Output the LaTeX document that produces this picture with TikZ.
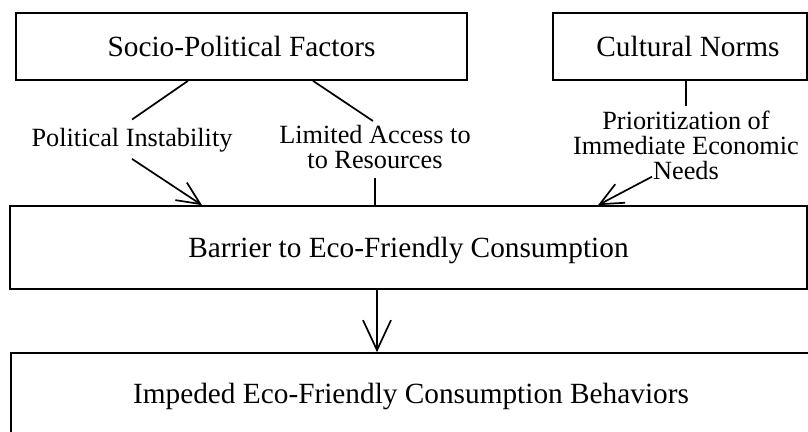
\documentclass[tikz,border=0pt]{standalone}
\usepackage{fontspec}
\setmainfont{Liberation Serif}
\usetikzlibrary{arrows.meta,calc}
\tikzset{
  box/.style={draw, line width=1.7pt, rectangle, inner sep=0pt, font=\fontsize{29.3}{34}\selectfont},
  lbl/.style={inner sep=0pt, align=center},
  conn/.style={line width=1.7pt},
  arr/.style={conn, -{Straight Barb[length=23pt, width=21pt, line width=1.7pt]}},
  bigarr/.style={conn, -{Straight Barb[length=30pt, width=28pt, line width=1.7pt]}}
}
\begin{document}
\begin{tikzpicture}[x=1pt, y=-1pt]
\useasboundingbox (0,0) rectangle (808,431);
% boxes
\node[box, minimum width=451pt, minimum height=67pt] (sp) at (241.5,46.5) {Socio-Political Factors};
\node[box, minimum width=254pt, minimum height=67pt] (cn) at (680,46.5) {\hspace*{16pt}Cultural Norms};
\node[box, minimum width=797pt, minimum height=83pt, text depth=0pt] (barrier) at (408.5,247.5) {Barrier to Eco-Friendly Consumption};
\node[box, minimum width=800pt, minimum height=80pt, text depth=0pt] (impeded) at (411,393) {Impeded Eco-Friendly Consumption Behaviors};
% labels
\node[lbl, font=\fontsize{26.3}{24}\selectfont, anchor=base] (pi) at (132,146) {Political Instability};
\node[lbl, font=\fontsize{26.3}{24.75}\selectfont, anchor=north] (la) at (375,125) {Limited Access to\\to Resources};
\node[lbl, font=\fontsize{26.3}{24.75}\selectfont, anchor=north] (pr) at (686,111) {Prioritization of\\Immediate Economic\\Needs};
% connectors
\draw[conn] ([xshift=-53.5pt]sp.south) -- ([yshift=8pt]pi.north);
\draw[arr] ([yshift=-7pt]pi.south) -- ([xshift=-206.5pt]barrier.north);
\draw[conn] ([xshift=71.5pt]sp.south) -- ([xshift=-2pt,yshift=4pt]la.north);
\draw[conn] ([yshift=-9.5pt]la.south) -- (la.south |- barrier.north);
\draw[conn] ([xshift=6pt]cn.south) -- ([yshift=5pt]pr.north);
\draw[arr] ([xshift=-34pt,yshift=3pt]pr.south) -- ([xshift=189.5pt]barrier.north);
\draw[bigarr] ([xshift=-31.5pt]barrier.south) -- ([xshift=-31.5pt]barrier.south |- impeded.north);
\end{tikzpicture}
\end{document}
